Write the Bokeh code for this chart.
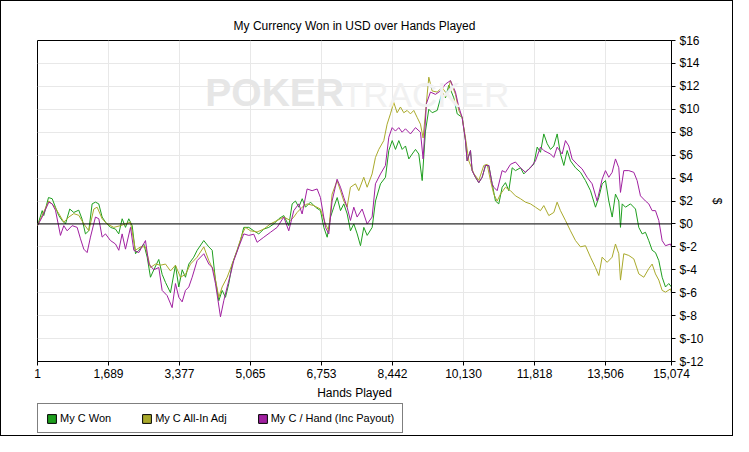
from bokeh.plotting import figure
from bokeh.layouts import column
from bokeh.models import (Range1d, FixedTicker, NumeralTickFormatter, PrintfTickFormatter,
                          Span, Legend, LegendItem, Label)
from bokeh.embed import file_html
from bokeh.resources import INLINE

# ---------------- data ----------------
x_ticks = [1, 1689, 3377, 5065, 6753, 8442, 10130, 11818, 13506, 15074]
y_ticks = [-12, -10, -8, -6, -4, -2, 0, 2, 4, 6, 8, 10, 12, 14, 16]

won_hands = [1, 113, 150, 262, 350, 428, 506, 587, 666, 768, 863, 982, 1063, 1141, 1220, 1300,
             1379, 1457, 1538, 1617, 1736, 1855, 1933, 2014, 2093, 2171, 2252, 2331, 2409, 2528,
             2609, 2687, 2766, 2884, 2965, 3044, 3162, 3281, 3360, 3441, 3519, 3598, 3716, 3797,
             3954, 4073, 4154, 4232, 4311, 4392, 4470, 4549, 4630, 4748, 4827, 4905, 5024, 5143,
             5262, 5381, 5500, 5619, 5738, 5856, 5975, 6056, 6134, 6213, 6294, 6372, 6491, 6610,
             6729, 6808, 6888, 6967, 7045, 7126, 7205, 7283, 7364, 7442, 7521, 7602, 7680, 7759,
             7839, 7958, 8037, 8156, 8274, 8353, 8434, 8512, 8591, 8671, 8750, 8829, 8909, 8988,
             9066, 9147, 9225, 9304, 9385, 9503, 9622, 9701, 9779, 9898, 9979, 10098, 10176, 10216,
             10295, 10335, 10414, 10492, 10573, 10652, 10730, 10811, 10889, 10968, 11048, 11127,
             11206, 11286, 11365, 11484, 11562, 11681, 11800, 11881, 11959, 12038, 12119, 12197,
             12276, 12356, 12435, 12514, 12594, 12673, 12792, 12911, 13029, 13148, 13267, 13345,
             13426, 13505, 13583, 13664, 13742, 13821, 13861, 13902, 13980, 14099, 14218, 14296,
             14377, 14455, 14534, 14615, 14693, 14772, 14852, 14931, 15009, 15074]
won_usd = [-0.15, 1.16, 0.73, 2.3, 2.2, 1.46, 0.73, 0.3, 0.0, 1.3, 1.0, 1.2, 0.4, -0.87, -0.6, 1.75,
           1.9, 1.75, 0.6, 0.15, -0.3, -0.45, -0.87, 0.45, -0.3, 0.45, -0.15, -2.6, -2.3, -1.75,
           -2.9, -4.65, -4.0, -3.1, -4.4, -5.1, -6.0, -3.6, -5.5, -4.0, -4.65, -3.5, -2.9, -2.3,
           -1.45, -2.0, -2.3, -4.9, -6.7, -5.8, -6.4, -5.2, -3.5, -2.3, -1.45, -0.3, -0.3, -0.6,
           -0.87, -0.45, -0.3, 0.0, 0.45, 0.73, -0.15, 1.75, 2.0, 1.46, 2.2, 1.46, 1.9, 1.46,
           1.16, -0.3, -1.16, 0.6, 1.46, 2.3, 1.16, 1.75, 0.87, -0.6, 0.0, -0.87, -1.9, -0.3,
           -1.0, -0.3, 2.0, 3.5, 4.07, 6.4, 7.27, 6.5, 7.27, 6.5, 6.8, 5.67, 6.1, 6.5,
           6.1, 3.78, 8.1, 10.0, 9.7, 9.9, 11.5, 11.0, 12.1, 11.0, 9.6, 9.3, 7.27, 5.5,
           6.4, 4.65, 4.07, 3.6, 4.07, 5.1, 5.1, 3.5, 2.0, 1.75, 3.2, 3.6,
           2.9, 4.9, 4.65, 4.9, 4.36, 4.8, 5.2, 6.7, 6.25, 7.85, 7.0, 6.5,
           6.8, 7.85, 6.1, 5.1, 6.4, 5.5, 4.9, 4.5, 3.78, 2.9, 1.46, 2.3,
           3.5, 3.78, 2.0, 0.6, 2.6, 2.0, -0.3, 1.75, 1.46, 1.75, 1.3, -0.3,
           -0.87, -0.73, -1.46, -2.3, -2.5, -3.2, -4.65, -5.5, -5.2, -5.5]

adj_hands = [1, 111, 270, 389, 508, 626, 745, 864, 983, 1102, 1221, 1340, 1419, 1538, 1657, 1815,
             1974, 2093, 2212, 2330, 2449, 2568, 2687, 2806, 2925, 3044, 3162, 3281, 3400, 3519,
             3638, 3796, 3955, 4074, 4193, 4312, 4391, 4510, 4629, 4747, 4866, 4945, 5064, 5222,
             5381, 5539, 5698, 5856, 6015, 6094, 6173, 6292, 6411, 6570, 6728, 6847, 6926, 7005,
             7124, 7204, 7283, 7362, 7441, 7560, 7639, 7758, 7838, 7956, 8036, 8115, 8234, 8313,
             8392, 8471, 8551, 8630, 8709, 8789, 8868, 8947, 9026, 9106, 9169, 9304, 9383, 9502,
             9620, 9739, 9819, 9938, 10017, 10096, 10176, 10255, 10374, 10493, 10611, 10691, 10770,
             10849, 10929, 11008, 11127, 11246, 11364, 11483, 11602, 11721, 11840, 11959, 12038,
             12157, 12276, 12355, 12434, 12553, 12672, 12791, 12910, 13029, 13148, 13266, 13346,
             13425, 13544, 13663, 13742, 13821, 13861, 13940, 14059, 14178, 14297, 14416, 14534,
             14614, 14693, 14772, 14852, 14931, 15050, 15074]
adj_usd = [-0.15, 0.75, 2.0, 1.6, 0.9, 0.15, 0.6, 0.9, 0.75, 0.0, -0.6, 1.3, 1.46, 0.45, 0.0, -0.3,
           -0.15, 0.0, 0.15, -2.3, -2.0, -2.0, -3.8, -3.5, -3.6, -3.5, -4.1, -3.6, -4.65, -4.4,
           -3.5, -2.9, -2.0, -3.2, -4.1, -6.4, -5.5, -4.65, -3.5, -2.3, -0.9, -0.3, -0.6, -0.7,
           -0.45, 0.0, 0.3, 0.6, 0.3, 0.6, 1.0, 1.46, 1.75, 1.6, 1.3, 0.0, -0.6, 2.6,
           3.78, 2.9, 2.0, 1.46, 3.2, 3.5, 2.9, 4.07, 3.2, 4.36, 5.8, 6.5, 7.27, 8.7,
           9.6, 10.6, 9.7, 10.2, 9.7, 9.9, 9.6, 9.9, 9.3, 8.7, 7.5, 12.8, 11.6, 11.5,
           11.9, 11.3, 12.5, 11.3, 9.9, 9.3, 7.5, 5.5, 4.4, 3.8, 5.1, 5.2, 3.8,
           2.6, 2.0, 2.6, 3.2, 2.9, 2.45, 2.2, 1.9, 1.75, 1.46, 1.16, 1.6,
           0.73, 1.0, 1.9, 1.16, 0.3, -0.6, -1.45, -2.0, -1.9, -2.9, -3.8, -4.5,
           -2.9, -3.35, -2.9, -1.75, -2.6, -4.9, -2.6, -2.75, -3.05, -4.36, -4.65, -3.9,
           -3.5, -4.36, -4.9, -5.8, -5.95, -5.67, -6.0]

hand_hands = [1, 111, 270, 349, 428, 547, 626, 706, 825, 944, 1023, 1102, 1181, 1260, 1379, 1459,
              1538, 1617, 1736, 1855, 1934, 2013, 2093, 2212, 2291, 2410, 2568, 2647, 2766, 2885,
              2964, 3083, 3202, 3281, 3361, 3440, 3519, 3598, 3678, 3796, 3955, 4074, 4153, 4232,
              4351, 4430, 4510, 4589, 4668, 4787, 4905, 5024, 5143, 5222, 5381, 5539, 5698, 5856,
              5975, 6094, 6213, 6292, 6411, 6530, 6649, 6728, 6847, 6926, 7005, 7124, 7204, 7283,
              7362, 7441, 7521, 7600, 7719, 7838, 7956, 8036, 8155, 8273, 8353, 8432, 8511, 8590,
              8670, 8749, 8868, 8987, 9106, 9169, 9248, 9343, 9462, 9581, 9700, 9819, 9938, 10017,
              10096, 10176, 10215, 10295, 10334, 10413, 10493, 10572, 10651, 10730, 10810, 10849,
              10929, 11047, 11127, 11246, 11364, 11483, 11602, 11721, 11840, 11959, 12038, 12117,
              12197, 12276, 12355, 12474, 12553, 12632, 12712, 12831, 12949, 13068, 13187, 13306,
              13425, 13504, 13583, 13663, 13742, 13821, 13861, 13940, 14059, 14178, 14257, 14336,
              14455, 14534, 14614, 14693, 14772, 14852, 14931, 15050, 15074]
hand_usd = [-0.15, 0.6, 1.9, 1.75, 1.2, -1.0, -0.15, -0.6, -0.15, -0.3, -1.3, -2.2, -2.5, -1.15, 0.6, 0.45,
            -1.15, -0.87, -1.45, -1.75, -2.3, -0.87, -2.2, -0.3, -2.3, -2.5, -1.45, -3.5, -4.0, -3.8,
            -5.8, -6.25, -7.3, -5.2, -6.4, -6.8, -5.8, -5.5, -4.65, -3.2, -2.6, -3.5, -3.8, -5.2,
            -8.1, -6.7, -5.5, -4.4, -3.2, -2.0, -0.87, -1.0, -0.9, -1.6, -1.16, -0.73, -0.3, 0.6,
            -0.6, 1.16, 1.75, 0.87, 3.05, 2.9, 3.05, 2.3, -0.3, -0.87, 2.0, 3.9, 3.2, 2.3,
            1.46, 0.3, 1.46, 0.6, 1.3, 0.0, 0.6, 3.5, 4.36, 5.1, 7.56, 8.4, 8.1, 8.4,
            8.0, 8.3, 7.85, 8.4, 8.0, 5.67, 10.5, 11.5, 11.3, 11.6, 12.2, 12.5, 11.5, 10.2,
            9.3, 7.27, 5.5, 6.4, 4.65, 4.07, 3.6, 4.07, 5.1, 5.1, 3.5, 3.2,
            2.9, 4.65, 4.5, 5.2, 5.4, 4.9, 4.5, 4.9, 5.5, 6.7, 6.4, 6.25,
            6.1, 5.8, 6.7, 6.1, 7.27, 6.8, 5.67, 5.2, 4.8, 4.07, 3.5, 2.0,
            3.9, 4.65, 4.07, 4.5, 5.67, 4.9, 2.75, 4.65, 4.65, 4.5, 3.78, 2.45,
            2.0, 1.75, 1.16, 1.16, 0.3, -1.46, -1.9, -1.75, -2.0]

series_names = ["My C Won", "My C All-In Adj", "My C / Hand (Inc Payout)"]
series_colors = ["#1e9e1e", "#a9a92b", "#a020a0"]
series_data = [(won_hands, won_usd), (adj_hands, adj_usd), (hand_hands, hand_usd)]

FONT = "Liberation Sans"
FS = "12px"

# ---------------- main chart ----------------
p = figure(width=731, height=401, output_backend="svg", toolbar_location=None,
           x_range=Range1d(1, 15074), y_range=Range1d(-12, 16),
           y_axis_location="right",
           min_border_left=36, min_border_right=61, min_border_top=39, min_border_bottom=41,
           title="My Currency Won in USD over Hands Played")
p.background_fill_color = "white"
p.border_fill_color = "white"
p.outline_line_color = "black"
p.outline_line_width = 1

p.title.align = "center"
p.title.text_font = FONT
p.title.text_font_size = FS
p.title.text_font_style = "normal"
p.title.text_color = "black"
p.title.offset = 0
p.title.standoff = 15

p.xgrid.ticker = FixedTicker(ticks=x_ticks)
p.ygrid.ticker = FixedTicker(ticks=y_ticks)
for g in (p.xgrid, p.ygrid):
    g.grid_line_color = "#e8e8e8"
    g.grid_line_width = 1

xa = p.xaxis[0]
xa.ticker = FixedTicker(ticks=x_ticks)
xa.formatter = NumeralTickFormatter(format="0,0")
xa.axis_label = "Hands Played"
ya = p.yaxis[0]
ya.ticker = FixedTicker(ticks=y_ticks)
ya.formatter = PrintfTickFormatter(format="$%d")
ya.axis_label = "$"
for ax in (xa, ya):
    ax.axis_line_color = "black"
    ax.major_tick_line_color = "black"
    ax.major_tick_out = 4
    ax.major_tick_in = 0
    ax.minor_tick_line_color = None
    ax.major_label_text_font = FONT
    ax.major_label_text_font_size = FS
    ax.major_label_text_color = "black"
    ax.axis_label_text_font = FONT
    ax.axis_label_text_font_size = FS
    ax.axis_label_text_font_style = "normal"
    ax.axis_label_text_color = "black"
xa.major_label_standoff = 3
xa.axis_label_standoff = 5
ya.major_label_standoff = 4
ya.axis_label_standoff = 3

# watermark
p.add_layout(Label(x=3990, y=9.6, text="POKER", text_font=FONT, text_font_size="39px",
                   text_font_style="bold", text_color="#e6e6e6"))
p.add_layout(Label(x=7240, y=9.6, text="TRACKER", text_font=FONT, text_font_size="35px",
                   text_color="#f1f1f1"))

p.add_layout(Span(location=0, dimension="width", line_color="black", line_width=1))

for (xs, ys), c in zip(series_data, series_colors):
    p.line(xs, ys, line_color=c, line_width=1)

# ---------------- legend strip ----------------
lp = figure(width=731, height=33, output_backend="svg", toolbar_location=None,
            x_axis_type=None, y_axis_type=None,
            x_range=Range1d(0, 1), y_range=Range1d(0, 1),
            min_border_left=0, min_border_right=0, min_border_top=0, min_border_bottom=0)
lp.outline_line_color = None
lp.background_fill_color = "white"
lp.border_fill_color = "white"
lp.xgrid.visible = False
lp.ygrid.visible = False

items = []
for name, (xs, ys), c in zip(series_names, series_data, series_colors):
    r = lp.vbar(x=xs, top=ys, width=1, fill_color=c, line_color="black", visible=False)
    items.append(LegendItem(label=name, renderers=[r]))

legend = Legend(items=items, orientation="horizontal", location=(0, 2),
                glyph_width=11, glyph_height=11, label_standoff=3, spacing=30,
                padding=8, margin=0, border_line_color="black", border_line_width=1,
                background_fill_color="white", background_fill_alpha=1,
                inactive_fill_alpha=0,
                label_text_font=FONT, label_text_font_size="11px", label_text_color="black")
lp.add_layout(legend)

layout = column(p, lp, spacing=0)
layout.styles = {"border": "1px solid black", "background-color": "white"}

open("out.html", "w").write(file_html(layout, INLINE))
